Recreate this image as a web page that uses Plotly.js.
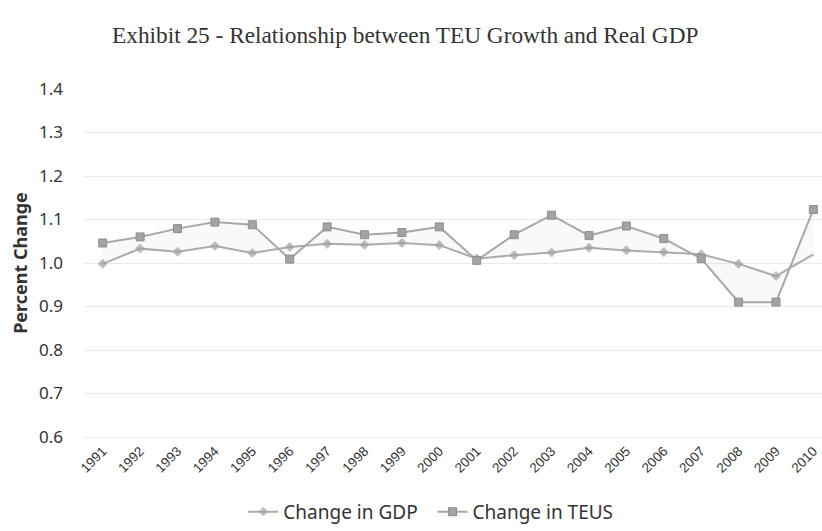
<!DOCTYPE html>
<html><head><meta charset="utf-8">
<script src="https://cdn.plot.ly/plotly-3.0.1.min.js"></script>
<style>html,body{margin:0;padding:0;background:#fff}#c{width:822px;height:531px}</style>
</head><body><div id="c"></div>
<script>
var years = ["1991","1992","1993","1994","1995","1996","1997","1998","1999","2000","2001","2002","2003","2004","2005","2006","2007","2008","2009","2010"];
var gdpChange = [0.998,1.033,1.026,1.039,1.023,1.037,1.044,1.042,1.046,1.041,1.010,1.018,1.024,1.035,1.029,1.025,1.020,0.998,0.970,1.020];
var teuChange = [1.046,1.060,1.079,1.094,1.088,1.009,1.083,1.065,1.070,1.083,1.006,1.065,1.110,1.063,1.085,1.056,1.010,0.910,0.910,1.123];
var yTicks = [0.6,0.7,0.8,0.9,1.0,1.1,1.2,1.3,1.4];

var idx = years.map(function(_, i){ return i; });
var gdpSizes = years.map(function(_, i){ return i === years.length - 1 ? 0 : 7; });

var traces = [
  {x: idx, y: gdpChange, name: 'Change in GDP&nbsp;&nbsp;', type: 'scatter', mode: 'lines+markers',
   line: {color: '#ababab', width: 2},
   marker: {symbol: 'diamond', size: gdpSizes, color: '#a0a0a0'}},
  {x: idx, y: teuChange, name: 'Change in TEUS', type: 'scatter', mode: 'lines+markers',
   fill: 'tonexty', fillcolor: 'rgba(0,0,0,0.025)',
   line: {color: '#a8a8a8', width: 2},
   marker: {symbol: 'square', size: 8, color: '#a3a3a3', line: {color: '#8e8e8e', width: 1}}}
];

var layout = {
  width: 822, height: 531,
  margin: {l: 84, r: 0, t: 89, b: 94},
  paper_bgcolor: '#fff', plot_bgcolor: '#fff',
  showlegend: true,
  title: {text: 'Exhibit 25 - Relationship between TEU Growth and Real GDP',
          font: {family: 'Liberation Serif, Times New Roman, serif', size: 23.3, color: '#333'},
          x: 0.493, xanchor: 'center', y: 0.935, yanchor: 'middle'},
  xaxis: {range: [-0.5, 19.23], tickvals: idx, ticktext: years, tickangle: -45,
          showgrid: false, zeroline: false, showline: true, linecolor: '#eeeeee',
          ticks: '', tickfont: {family: 'Liberation Sans Narrow, Liberation Sans, sans-serif', size: 13.5, color: '#333'}},
  yaxis: {range: [0.6, 1.4], tickvals: yTicks, tickformat: '.1f',
          showgrid: true, gridcolor: '#e9e9e9', gridwidth: 1, zeroline: false,
          showline: false, ticks: '', ticklen: 0, ticklabelstandoff: 20,
          tickfont: {family: 'Noto Sans, sans-serif', size: 17, color: '#333'},
          title: {text: '<b>Percent Change</b>', standoff: 6,
                  font: {family: 'Noto Sans, sans-serif', size: 18, color: '#333'}}},
  legend: {orientation: 'h', traceorder: 'normal', x: 0.47, xanchor: 'center', y: -0.215, yanchor: 'middle',
           font: {family: 'Noto Sans, sans-serif', size: 19, color: '#333'}, itemwidth: 30}
};

Plotly.newPlot('c', traces, layout, {displayModeBar: false, staticPlot: true});
</script></body></html>
